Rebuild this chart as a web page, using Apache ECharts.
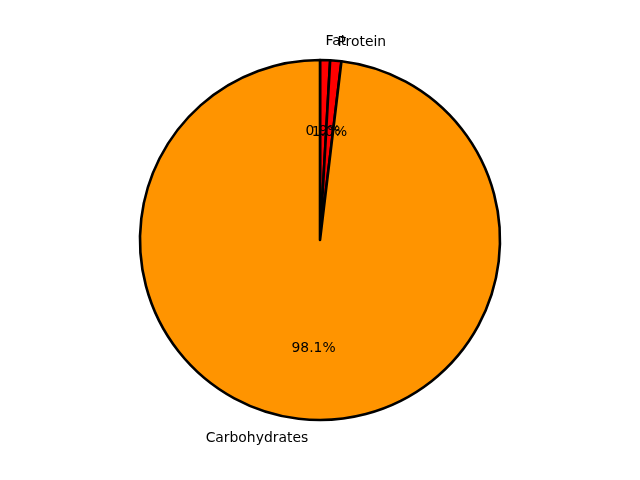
<!DOCTYPE html>
<html>
	<head>
		<meta charset="utf-8">
		<title></title>
		<style>
			body{margin:0;background:#fff;}
			#main{
				width: 640px;
				height: 480px;
			}
		</style>
	</head>
	<body>
		<div id="main"></div>
		<script src="https://cdn.jsdelivr.net/npm/echarts@6/dist/echarts.min.js"></script>
		<script>
			// slices, in drawing order (clockwise from the top)
			var names=['Fat','Protein','Carbohydrates']
			var values=[0.9,1.0,98.1]
			var colors=['#ff0000','#ff0000','#ff9400']
			var nameAlign=['left','left','right']

			var R=180
			var font={fontFamily:'DejaVu Sans',fontSize:13.9,color:'#000'}

			var pieData=names.map((n,i)=>({name:n,value:values[i],itemStyle:{color:colors[i]}}))
			// transparent copies used only to place the texts like matplotlib does
			var textData=names.map((n,i)=>({name:n,value:values[i]}))

			var base={
				type:'pie',
				center:[320,240],
				startAngle:90,
				clockwise:true,
				avoidLabelOverlap:false,
				animation:false
			}

			var mychart=echarts.init(document.getElementById("main"))
			var option={
				series:[
					Object.assign({},base,{
						radius:[0,R],
						label:{show:false},
						labelLine:{show:false},
						itemStyle:{borderColor:'#000',borderWidth:2.6},
						emphasis:{disabled:true},
						data:pieData
					}),
					Object.assign({},base,{
						radius:[R,R*1.172],
						silent:true,
						itemStyle:{color:'transparent',borderWidth:0},
						label:Object.assign({show:true,position:'inside',formatter:'{b}'},font),
						labelLine:{show:false},
						labelLayout:function(p){
							return {align:nameAlign[p.dataIndex],hideOverlap:false}
						},
						data:textData
					}),
					Object.assign({},base,{
						radius:[0,R*1.17],
						silent:true,
						itemStyle:{color:'transparent',borderWidth:0},
						label:Object.assign({show:true,position:'inside',formatter:function(p){
							return p.percent.toFixed(1)+'%'
						}},font),
						labelLine:{show:false},
						labelLayout:{hideOverlap:false},
						data:textData
					})
				]
			};
			mychart.setOption(option);
		</script>
	</body>
</html>
